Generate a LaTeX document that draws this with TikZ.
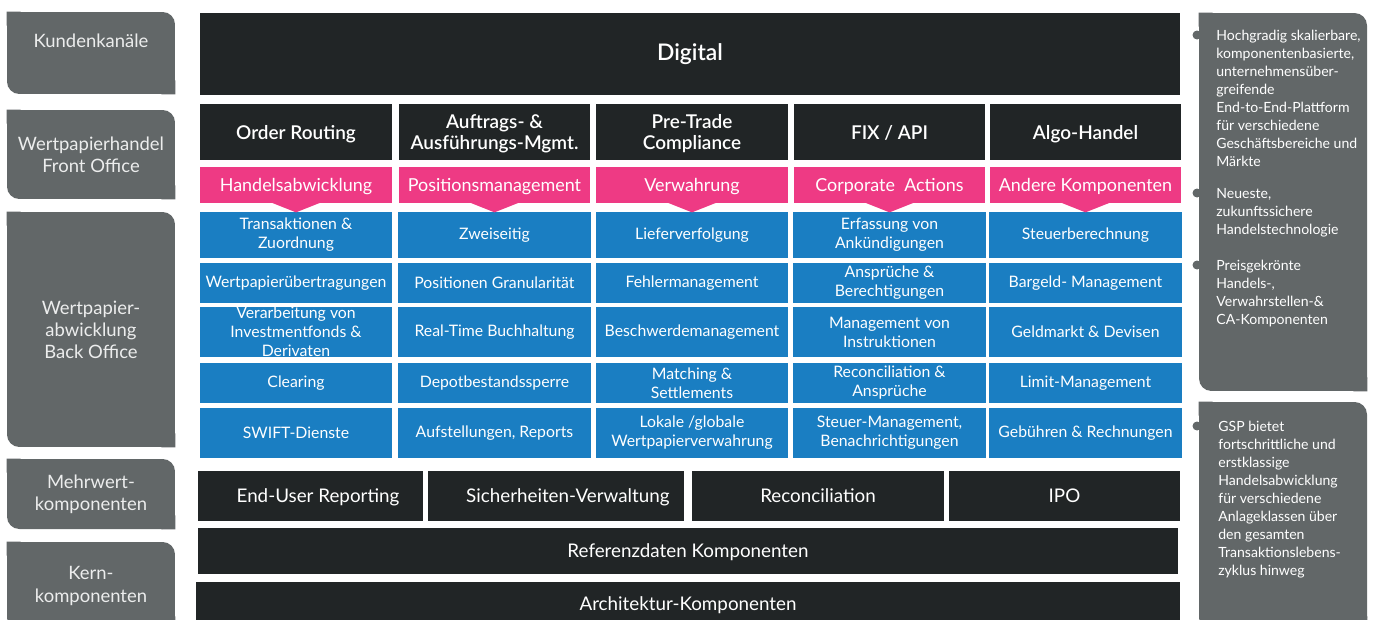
\documentclass[tikz,border=0pt]{standalone}
\usepackage{fontspec}
\setmainfont{Lato}
\newfontfamily\semifont{Lato}[UprightFont={* Semibold}]
\usepackage{tikz}
\usetikzlibrary{positioning}
\usetikzlibrary{calc}
\definecolor{darkbox}{RGB}{33,37,38}
\definecolor{lanegray}{RGB}{98,103,104}
\definecolor{lanetext}{RGB}{236,237,237}
\definecolor{topicpink}{RGB}{238,58,132}
\definecolor{itemblue}{RGB}{26,126,194}
\tikzstyle{every node}+=[inner sep=0pt]
\tikzstyle{lane} = [rectangle, fill=lanegray, text=lanetext, rounded corners=7pt, align=center, font=\fontsize{10.5}{12.6}\selectfont, minimum width=3.36cm]
\tikzstyle{panel} = [rectangle, fill=lanegray, rounded corners=7pt, minimum width=3.36cm]
\tikzstyle{note} = [anchor=north west, text=white, align=left, font=\fontsize{8}{10.2}\selectfont]
\tikzstyle{head} = [rectangle, fill=darkbox, text=white, align=center, text depth=0pt, font=\semifont\fontsize{10.8}{12.4}\selectfont, minimum width=3.84cm, minimum height=1.12cm]
\tikzstyle{topic} = [rectangle, fill=topicpink, text=white, text height=0.72em, text depth=0pt, font=\fontsize{10.2}{12}\selectfont, minimum width=3.84cm, minimum height=0.72cm]
\tikzstyle{item} = [rectangle, fill=itemblue, text=white, align=center, font=\fontsize{9}{10.8}\selectfont, minimum width=3.86cm]
\tikzstyle{layer} = [rectangle, fill=darkbox, text=white, text height=0.72em, text depth=0pt, font=\fontsize{10.7}{12}\selectfont, minimum height=1cm]
\tikzstyle{notch} = [fill=topicpink]
\tikzstyle{dot} = [fill=lanegray]

\begin{document}
\begin{tikzpicture}[x=0.02cm, y=-0.02cm]
            \useasboundingbox (0,0) rectangle (1375,619);
            % Place nodes
            \node [lane, minimum height=1.64cm, text depth=0.5cm] (k1) at (91,53) {Kundenkanäle};
            \node [lane, minimum height=1.78cm] (k2) at (91,154.5) {Wertpapierhandel\\Front Office};
            \node [lane, minimum height=4.7cm] (k3) at (91,329.5) {Wertpapier-\\abwicklung\\Back Office};
            \node [lane, minimum height=1.4cm] (k4) at (91,494) {Mehrwert-\\komponenten};
            \node [lane, minimum height=1.76cm] (k5) at (91,586) {Kern-\\komponenten};
            \node [layer, font=\semifont\fontsize{13}{15}\selectfont, minimum width=19.6cm, minimum height=1.64cm] (dig) at (690,54) {Digital};
            \node [head] (h1) at (296,132) {Order Routing};
            \node [head] (h2) at (494.5,132) {Auftrags- \&\\Ausführungs-Mgmt.};
            \node [head] (h3) at (692,132) {Pre-Trade\\Compliance};
            \node [head] (h4) at (889.5,132) {FIX / API};
            \node [head] (h5) at (1085.5,132) {Algo-Handel};
            \node [topic] (p1) at (296,185) {Handelsabwicklung};
            \node [topic] (p2) at (494.5,185) {Positionsmanagement};
            \node [topic] (p3) at (692,185) {Verwahrung};
            \node [topic] (p4) at (889.5,185) {Corporate\ \ Actions};
            \node [topic] (p5) at (1085.5,185) {Andere Komponenten};
            \node [item, minimum height=0.92cm] (b11) at (296,235) {Transaktionen \&\\Zuordnung};
            \node [item, minimum height=0.92cm] (b12) at (494.5,235) {Zweiseitig};
            \node [item, minimum height=0.92cm] (b13) at (692,235) {Lieferverfolgung};
            \node [item, minimum height=0.92cm] (b14) at (889.5,235) {Erfassung von\\Ankündigungen};
            \node [item, minimum height=0.92cm] (b15) at (1085.5,235) {Steuerberechnung};
            \node [item, minimum height=0.8cm] (b21) at (296,283) {Wertpapierübertragungen};
            \node [item, minimum height=0.8cm] (b22) at (494.5,283) {Positionen Granularität};
            \node [item, minimum height=0.8cm] (b23) at (692,283) {Fehlermanagement};
            \node [item, minimum height=0.8cm] (b24) at (889.5,283) {Ansprüche \&\\Berechtigungen};
            \node [item, minimum height=0.8cm] (b25) at (1085.5,283) {Bargeld- Management};
            \node [item, minimum height=1cm] (b31) at (296,332) {Verarbeitung von\\Investmentfonds \&\\Derivaten};
            \node [item, minimum height=1cm] (b32) at (494.5,332) {Real-Time Buchhaltung};
            \node [item, minimum height=1cm] (b33) at (692,332) {Beschwerdemanagement};
            \node [item, minimum height=1cm] (b34) at (889.5,332) {Management von\\Instruktionen};
            \node [item, minimum height=1cm] (b35) at (1085.5,332) {Geldmarkt \& Devisen};
            \node [item, minimum height=0.8cm] (b41) at (296,383) {Clearing};
            \node [item, minimum height=0.8cm] (b42) at (494.5,383) {Depotbestandssperre};
            \node [item, minimum height=0.8cm] (b43) at (692,383) {Matching \&\\Settlements};
            \node [item, minimum height=0.8cm] (b44) at (889.5,383) {Reconciliation \&\\Ansprüche};
            \node [item, minimum height=0.8cm] (b45) at (1085.5,383) {Limit-Management};
            \node [item, minimum height=1cm] (b51) at (296,433) {SWIFT-Dienste};
            \node [item, minimum height=1cm] (b52) at (494.5,433) {Aufstellungen, Reports};
            \node [item, minimum height=1cm] (b53) at (692,433) {Lokale /globale\\Wertpapierverwahrung};
            \node [item, minimum height=1cm] (b54) at (889.5,433) {Steuer-Management,\\Benachrichtigungen};
            \node [item, minimum height=1cm] (b55) at (1085.5,433) {Gebühren \& Rechnungen};
            \node [layer, minimum width=4.5cm] (m1) at (310.5,496) {\hspace*{8.5pt}End-User Reporting};
            \node [layer, minimum width=5.12cm] (m2) at (556,496) {\hspace*{13.5pt}Sicherheiten-Verwaltung};
            \node [layer, minimum width=5.04cm] (m3) at (818,496) {Reconciliation};
            \node [layer, minimum width=4.62cm] (m4) at (1064.5,496) {IPO};
            \node [layer, minimum width=19.6cm, minimum height=0.92cm] (ref) at (688,551) {Referenzdaten Komponenten};
            \node [layer, minimum width=19.68cm, minimum height=0.88cm] (arch) at (688,604) {Architektur-Komponenten};
            \node [panel, minimum height=7.56cm] (pan1) at (1283,202) {};
            \node [panel, minimum height=4.56cm] (pan2) at (1283,516) {};
            \node [note] (n1) at (1216,30) {Hochgradig skalierbare,\\komponentenbasierte,\\unternehmensüber-\\greifende\\End-to-End-Plattform\\für verschiedene\\Geschäftsbereiche und\\Märkte};
            \node [note] (n2) at (1216,188) {Neueste,\\zukunftssichere\\Handelstechnologie};
            \node [note] (n3) at (1216,260) {Preisgekrönte\\Handels-,\\Verwahrstellen-\&\\CA-Komponenten};
            \node [note] (n4) at (1218,421) {GSP bietet\\fortschrittliche und\\erstklassige\\Handelsabwicklung\\für verschiedene\\Anlageklassen über\\den gesamten\\Transaktionslebens-\\zyklus hinweg};
            % Square corners
            \fill [lanegray] (k1.north west) rectangle +(14,14) (k1.south east) rectangle +(-14,-14);
            \fill [lanegray] (k2.north west) rectangle +(14,14) (k2.south east) rectangle +(-14,-14);
            \fill [lanegray] (k3.north west) rectangle +(14,14) (k3.south east) rectangle +(-14,-14);
            \fill [lanegray] (k4.north west) rectangle +(14,14) (k4.south east) rectangle +(-14,-14);
            \fill [lanegray] (k5.north west) rectangle +(14,14) (k5.south east) rectangle +(-14,-14);
            \fill [lanegray] (pan1.north west) rectangle +(14,14) (pan1.south east) rectangle +(-14,-14);
            \fill [lanegray] (pan2.north west) rectangle +(14,14) (pan2.south east) rectangle +(-14,-14);
            % Draw notches
            \fill [notch] ($(p1.south)+(-24,-0.5)$) -- ($(p1.south)+(24,-0.5)$) -- ($(p1.south)+(0,9)$) -- cycle;
            \fill [notch] ($(p2.south)+(-24,-0.5)$) -- ($(p2.south)+(24,-0.5)$) -- ($(p2.south)+(0,9)$) -- cycle;
            \fill [notch] ($(p3.south)+(-24,-0.5)$) -- ($(p3.south)+(24,-0.5)$) -- ($(p3.south)+(0,9)$) -- cycle;
            \fill [notch] ($(p4.south)+(-24,-0.5)$) -- ($(p4.south)+(24,-0.5)$) -- ($(p4.south)+(0,9)$) -- cycle;
            \fill [notch] ($(p5.south)+(-24,-0.5)$) -- ($(p5.south)+(24,-0.5)$) -- ($(p5.south)+(0,9)$) -- cycle;
            % Draw bullets
            \fill [dot] (1197,35) circle (0.09cm);
            \fill [dot] (1197,193) circle (0.09cm);
            \fill [dot] (1197,265) circle (0.09cm);
            \fill [dot] (1197,426) circle (0.09cm);
          \end{tikzpicture}
\end{document}
